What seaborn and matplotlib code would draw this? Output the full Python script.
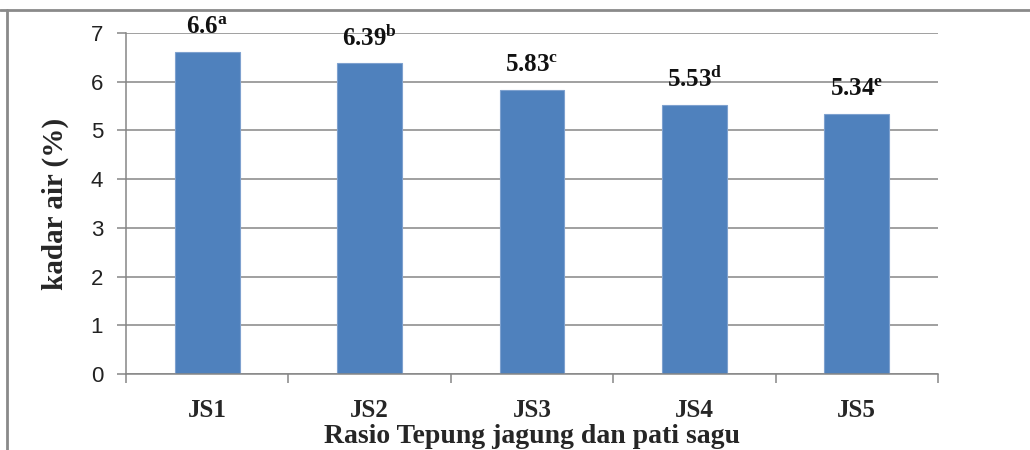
import matplotlib
matplotlib.use("Agg")
import matplotlib.pyplot as plt
import numpy as np
import pandas as pd
import seaborn as sns
from matplotlib.lines import Line2D
from matplotlib.ticker import FixedLocator

samples = ["JS1", "JS2", "JS3", "JS4", "JS5"]
kadar_air = [6.6, 6.39, 5.83, 5.53, 5.34]
notasi = ["a", "b", "c", "d", "e"]
y_ticks = [0, 1, 2, 3, 4, 5, 6, 7]

sns.set_theme(style="white")
plt.rcParams["font.family"] = ["Liberation Serif", "DejaVu Serif"]
plt.rcParams["mathtext.fontset"] = "custom"
plt.rcParams["mathtext.rm"] = "Liberation Serif:bold"
plt.rcParams["mathtext.it"] = "Liberation Serif:bold"
plt.rcParams["mathtext.bf"] = "Liberation Serif:bold"

GRID = "#868686"
BAR = "#4F81BD"

df = pd.DataFrame({"sampel": samples, "kadar": kadar_air})

fig = plt.figure(figsize=(10.3, 4.5), dpi=100)
ax = fig.add_axes([126 / 1030, 1 - 374 / 450, 812 / 1030, 341 / 450])

sns.barplot(data=df, x="sampel", y="kadar", color=BAR, width=0.4, saturation=1, ax=ax)
for p in ax.patches:
    p.set_edgecolor("#7EA1CF")
    p.set_linewidth(0.8)

ax.set_xlim(-0.5, 4.5)
ax.set_ylim(0, 7)
ax.set_yticks(y_ticks)
ax.yaxis.grid(True, color=GRID, linewidth=1.1)
ax.set_axisbelow(True)
for s in ["top", "right"]:
    ax.spines[s].set_visible(False)
for s in ["left", "bottom"]:
    ax.spines[s].set_color(GRID)
    ax.spines[s].set_linewidth(1.1)

ax.tick_params(axis="y", direction="out", length=6.5, width=1.1, color=GRID, pad=10, left=True,
               labelsize=16, labelcolor="#222222")
for lab in ax.get_yticklabels():
    lab.set_family(["Liberation Sans", "DejaVu Sans"])

ax.set_xticks(range(len(samples)))
ax.set_xticklabels(samples, fontsize=18, fontweight="bold")
ax.xaxis.set_minor_locator(FixedLocator(np.arange(-0.5, 5, 1.0)))
ax.tick_params(axis="x", which="major", length=0, pad=18, bottom=True)
ax.tick_params(axis="x", which="minor", direction="out", length=6.5, width=1.1, color=GRID, bottom=True)

ax.set_xlabel("Rasio Tepung jagung dan pati sagu", fontsize=20, fontweight="bold")
ax.xaxis.set_label_coords(0.5, -0.148)
ax.xaxis.label.set_va("top")
ax.set_ylabel("kadar air (%)", fontsize=21, fontweight="bold")
ax.yaxis.set_label_coords(-0.087, 0.5)
ax.yaxis.label.set_va("center")

for i, (v, n) in enumerate(zip(kadar_air, notasi)):
    ax.annotate(f"{v:g}$^{{\\mathrm{{{n}}}}}$", (i, v), xytext=(0, 18.5), textcoords="offset points",
                ha="center", va="center", fontsize=18, fontweight="bold", color="#111111")

# outer chart frame (top and left edges visible)
fig.add_artist(Line2D([0, 1], [1 - 10 / 450] * 2, transform=fig.transFigure, color="#8a8a8a", lw=2))
fig.add_artist(Line2D([7 / 1030] * 2, [0, 1 - 10 / 450], transform=fig.transFigure, color="#8a8a8a", lw=2))

fig.savefig("out.png", dpi=100)
